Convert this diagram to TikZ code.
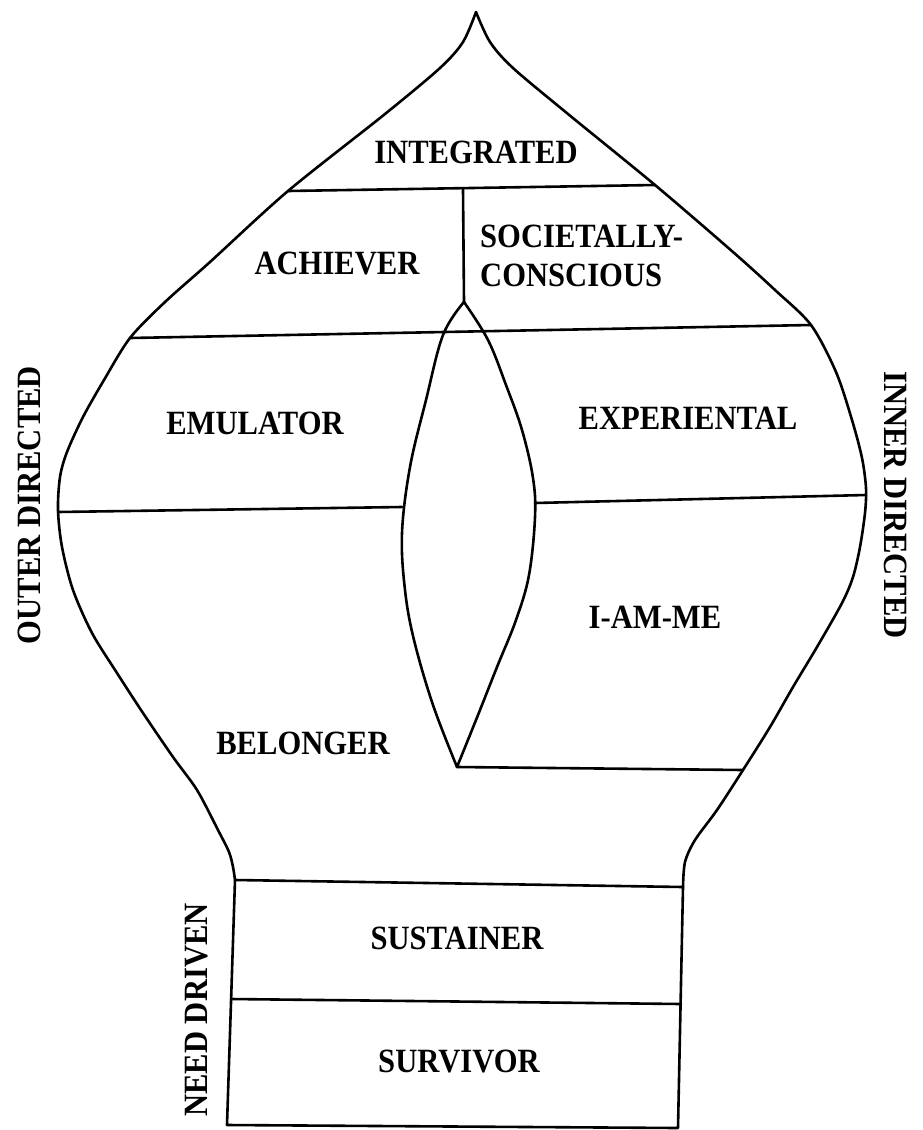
\documentclass[tikz,border=0pt]{standalone}
\usepackage{fontspec}
\setmainfont[FakeStretch=0.9]{Liberation Serif}
\begin{document}
\begin{tikzpicture}[x=1pt,y=-1pt,
  outline/.style={line width=2.6pt,line join=round,line cap=round},
  lbl/.style={font=\fontsize{34}{38}\selectfont\bfseries,inner sep=0pt},
  side/.style={lbl}]
\useasboundingbox (0,0) rectangle (923,1130);
% key points
\coordinate (apex) at (476,12);
\coordinate (intL) at (288,191);
\coordinate (intR) at (655,185);
\coordinate (achL) at (130,338);
\coordinate (achR) at (811,325);
\coordinate (emuL) at (58,512);
\coordinate (lensT) at (464,302);
\coordinate (lensB) at (457,767);
\coordinate (lensLm) at (402,507);
\coordinate (lensRm) at (535,503);
\coordinate (expR) at (866,495);
\coordinate (iamR) at (743,770);
\coordinate (boxTL) at (235,880);
\coordinate (boxTR) at (683,887);
\coordinate (boxML) at (231,999);
\coordinate (boxMR) at (681,1004);
\coordinate (boxBL) at (227,1125);
\coordinate (boxBR) at (678,1128);
\coordinate (divT) at (463,189);
% outer outline
\draw[outline] plot[smooth,tension=0.5] coordinates {(476,12) (463,42) (440,68) (385,114) (288,191) (210,262) (165,302) (130,338) (104,380) (83,417) (67,452) (60,477) (58,510) (62,547) (73,590) (92,633) (117,673) (143,713) (173,757) (197,790) (218,830) (229,852) (233,867) (235,880)};
\draw[outline] plot[smooth,tension=0.5] coordinates {(476,12) (490,42) (513,68) (568,114) (655,185) (733,252) (775,290) (811,325) (836,372) (852,420) (862,458) (866,488) (865,513) (860,547) (853,577) (842,603) (817,647) (793,687) (770,727) (743,770) (717,810) (695,840) (685,862) (683,887)};
% lens
\draw[outline] plot[smooth,tension=0.6] coordinates {(464,302) (443,335) (426,400) (410,467) (402,533) (405,590) (414,640) (433,705) (457,767)};
\draw[outline] plot[smooth,tension=0.6] coordinates {(464,302) (488,340) (506,385) (522,430) (533,478) (535,517) (529,575) (516,620) (497,667) (478,715) (457,767)};
% dividers
\draw[outline] (intL) -- (intR);
\draw[outline] (divT) -- (lensT);
\draw[outline] (achL) -- (achR);
\draw[outline] (emuL) -- (lensLm);
\draw[outline] (lensRm) -- (expR);
\draw[outline] (lensB) -- (iamR);
% box
\draw[outline] (boxTL) -- (boxTR) -- (boxBR) -- (boxBL) -- cycle;
\draw[outline] (boxML) -- (boxMR);
% labels
\node[lbl] (integrated) at (476,152) {INTEGRATED};
\node[lbl] (achiever) at (337,263) {ACHIEVER};
\node[lbl,anchor=west,align=left] (societally) at (480,256) {SOCIETALLY-\\[1pt]CONSCIOUS};
\node[lbl] (emulator) at (255,423) {EMULATOR};
\node[lbl] (experiental) at (688,418) {EXPERIENTAL};
\node[lbl] (iamme) at (655,617) {I-AM-ME};
\node[lbl] (belonger) at (303,743) {BELONGER};
\node[lbl] (sustainer) at (457,938) {SUSTAINER};
\node[lbl] (survivor) at (459,1061) {SURVIVOR};
\node[side,rotate=90] (outer) at (29,505) {OUTER DIRECTED};
\node[side,rotate=-90] (inner) at (896,505) {INNER DIRECTED};
\node[side,rotate=90] (need) at (197,1010) {NEED DRIVEN};
\end{tikzpicture}
\end{document}
